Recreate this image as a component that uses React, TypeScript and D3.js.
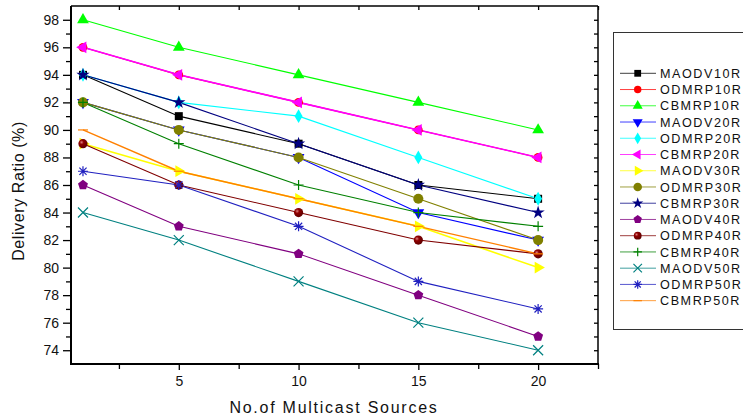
import React, { useRef, useEffect } from "react";
import * as d3 from "d3";

const xValues = [1, 5, 10, 15, 20];
const seriesNames = [
  "MAODV10R", "ODMRP10R", "CBMRP10R", "MAODV20R", "ODMRP20R",
  "CBMRP20R", "MAODV30R", "ODMRP30R", "CBMRP30R", "MAODV40R",
  "ODMRP40R", "CBMRP40R", "MAODV50R", "ODMRP50R", "CBMRP50R",
];
const maodv10 = [94, 91, 89, 86, 85];
const odmrp10 = [96, 94, 92, 90, 88];
const cbmrp10 = [98, 96, 94, 92, 90];
const maodv20 = [92, 90, 88, 84, 82];
const odmrp20 = [94, 92, 91, 88, 85];
const cbmrp20 = [96, 94, 92, 90, 88];
const maodv30 = [89, 87, 85, 83, 80];
const odmrp30 = [92, 90, 88, 85, 82];
const cbmrp30 = [94, 92, 89, 86, 84];
const maodv40 = [86, 83, 81, 78, 75];
const odmrp40 = [89, 86, 84, 82, 81];
const cbmrp40 = [92, 89, 86, 84, 83];
const maodv50 = [84, 82, 79, 76, 74];
const odmrp50 = [87, 86, 83, 79, 77];
const cbmrp50 = [90, 87, 85, 83, 81];
const seriesValues = [
  maodv10, odmrp10, cbmrp10, maodv20, odmrp20, cbmrp20, maodv30, odmrp30,
  cbmrp30, maodv40, odmrp40, cbmrp40, maodv50, odmrp50, cbmrp50,
];
const xTickLabels = [5, 10, 15, 20];
const yTickLabels = [74, 76, 78, 80, 82, 84, 86, 88, 90, 92, 94, 96, 98];

// marker style per series (same order as the legend)
const styles = [
  { color: "#000000", shape: "square" },
  { color: "#ff0000", shape: "circle" },
  { color: "#00ff00", shape: "triUp" },
  { color: "#0000ff", shape: "triDown" },
  { color: "#00ffff", shape: "diamond" },
  { color: "#ff00ff", shape: "triLeft", width: 1.6 },
  { color: "#ffff00", shape: "triRight", width: 1.6 },
  { color: "#808000", shape: "bigCircle" },
  { color: "#000080", shape: "star" },
  { color: "#800080", shape: "pentagon" },
  { color: "#800000", shape: "sphere" },
  { color: "#008000", shape: "plus" },
  { color: "#008080", shape: "x" },
  { color: "#2020c0", shape: "asterisk" },
  { color: "#ff8000", shape: "dash", width: 1.4 },
];

const drawMarker = (g, shape, color, x, y, k = 1) => {
  const t = `translate(${x},${y}) scale(${k})`;
  const sym = (type, size, rot = 0) =>
    g.append("path")
      .attr("d", d3.symbol().type(type).size(size)())
      .attr("transform", `${t} rotate(${rot})`)
      .attr("fill", color);
  const strokePath = (d) =>
    g.append("path").attr("d", d).attr("transform", t)
      .attr("fill", "none").attr("stroke", color).attr("stroke-width", 1.2 / k);
  switch (shape) {
    case "square": sym(d3.symbolSquare, 64); break;
    case "circle": sym(d3.symbolCircle, 60); break;
    case "bigCircle": sym(d3.symbolCircle, 80); break;
    case "triUp": sym(d3.symbolTriangle, 60); break;
    case "triDown": sym(d3.symbolTriangle, 60, 180); break;
    case "triLeft": sym(d3.symbolTriangle, 60, -90); break;
    case "triRight": sym(d3.symbolTriangle, 60, 90); break;
    case "diamond": sym(d3.symbolDiamond, 55); break;
    case "star": sym(d3.symbolStar, 55); break;
    case "pentagon": {
      const r = 5.2;
      const pts = d3.range(5).map(j => {
        const a = (-90 + 72 * j) * Math.PI / 180;
        return [r * Math.cos(a), r * Math.sin(a)];
      });
      g.append("path").attr("d", "M" + pts.join("L") + "Z")
        .attr("transform", t).attr("fill", color);
      break;
    }
    case "sphere":
      g.append("circle").attr("cx", x).attr("cy", y).attr("r", 4.6 * k)
        .attr("fill", "url(#sphereGrad)");
      break;
    case "plus": strokePath("M-5,0H5M0,-5V5"); break;
    case "x": strokePath("M-5,-5L5,5M-5,5L5,-5"); break;
    case "asterisk": strokePath("M-5,0H5M0,-5V5M-3.6,-3.6L3.6,3.6M-3.6,3.6L3.6,-3.6"); break;
    case "dash": strokePath("M-5,0H5"); break;
  }
};

const App = () => {
  const svgRef = useRef(null);
  const width = 743;
  const height = 419;
  const left = 71, right = 598, top = 6, bottom = 364;

  useEffect(() => {
    const svg = d3.select(svgRef.current);
    svg.selectAll("*").remove();

    const defs = svg.append("defs");
    const grad = defs.append("radialGradient").attr("id", "sphereGrad")
      .attr("cx", "35%").attr("cy", "35%").attr("r", "65%");
    grad.append("stop").attr("offset", "0%").attr("stop-color", "#e08080");
    grad.append("stop").attr("offset", "35%").attr("stop-color", "#900000");
    grad.append("stop").attr("offset", "100%").attr("stop-color", "#600000");

    const xScale = d3.scaleLinear().domain([0.5, 22.5]).range([left, right]);
    const yScale = d3.scaleLinear().domain([73, 99]).range([bottom, top]);

    const font = "'Liberation Sans', Arial, sans-serif";

    // series lines and markers
    const plot = svg.append("g");
    const line = d3.line().x((d, i) => xScale(xValues[i])).y(d => yScale(d));
    seriesValues.forEach((vals, si) => {
      const st = styles[si];
      plot.append("path").datum(vals)
        .attr("d", line)
        .attr("fill", "none")
        .attr("stroke", st.color)
        .attr("stroke-width", st.width || 1.1);
    });
    seriesValues.forEach((vals, si) => {
      const st = styles[si];
      const mg = plot.append("g");
      vals.forEach((v, i) => drawMarker(mg, st.shape, st.color, xScale(xValues[i]), yScale(v)));
    });

    // axes
    const yMajor = d3.axisLeft(yScale).tickValues(yTickLabels).tickSize(8).tickPadding(4);
    const yMinor = d3.axisLeft(yScale).tickValues(d3.range(75, 99, 2)).tickSize(5).tickFormat(() => "");
    const xMajor = d3.axisBottom(xScale).tickValues(xTickLabels).tickSize(6).tickPadding(6);
    const xMinor = d3.axisBottom(xScale).tickValues([2.5, 7.5, 12.5, 17.5, 22.5]).tickSize(5).tickFormat(() => "");
    const yRight = d3.axisLeft(yScale).tickValues(d3.range(74, 99, 1)).tickSize(4).tickFormat(() => "");
    const xTop = d3.axisBottom(xScale).tickValues([2.5, 5, 7.5, 10, 12.5, 15, 17.5, 20, 22.5]).tickSize(4).tickFormat(() => "");

    const styleAxis = (g) => {
      g.select(".domain").remove();
      g.selectAll("line").attr("stroke", "#000").attr("stroke-width", 1.3);
      g.selectAll("text").attr("font-family", font).attr("font-size", 14).attr("fill", "#111");
    };

    svg.append("g").attr("transform", `translate(${left},0)`).call(yMajor).call(styleAxis);
    svg.append("g").attr("transform", `translate(${left},0)`).call(yMinor).call(styleAxis);
    svg.append("g").attr("transform", `translate(0,${bottom})`).call(xMajor).call(styleAxis);
    svg.append("g").attr("transform", `translate(0,${bottom})`).call(xMinor).call(styleAxis);
    svg.append("g").attr("transform", `translate(${right},0)`).call(yRight).call(styleAxis);
    svg.append("g").attr("transform", `translate(0,${top})`).call(xTop).call(styleAxis);

    // frame
    svg.append("line").attr("x1", left).attr("x2", left).attr("y1", top).attr("y2", bottom + 1)
      .attr("stroke", "#000").attr("stroke-width", 2);
    svg.append("line").attr("x1", left - 1).attr("x2", right + 1).attr("y1", bottom).attr("y2", bottom)
      .attr("stroke", "#000").attr("stroke-width", 2);
    svg.append("line").attr("x1", left).attr("x2", right).attr("y1", top).attr("y2", top)
      .attr("stroke", "#000").attr("stroke-width", 1.5);
    svg.append("line").attr("x1", right).attr("x2", right).attr("y1", top).attr("y2", bottom)
      .attr("stroke", "#000").attr("stroke-width", 1.5);

    // axis titles
    svg.append("text")
      .attr("x", 334).attr("y", 413)
      .attr("text-anchor", "middle")
      .attr("font-family", font).attr("font-size", 16)
      .attr("letter-spacing", 1.75)
      .attr("fill", "#111")
      .text("No.of Multicast Sources");
    svg.append("text")
      .attr("transform", `translate(24,${(top + bottom) / 2 + 6}) rotate(-90)`)
      .attr("text-anchor", "middle")
      .attr("font-family", font).attr("font-size", 16)
      .attr("letter-spacing", 0.6)
      .attr("fill", "#111")
      .text("Delivery Ratio (%)");

    // legend
    const lg = svg.append("g");
    lg.append("rect").attr("x", 613.5).attr("y", 32.5).attr("width", 200).attr("height", 297)
      .attr("fill", "#fff").attr("stroke", "#333").attr("stroke-width", 1);
    seriesNames.forEach((name, i) => {
      const st = styles[i];
      const y = 73.3 + i * 16.24;
      lg.append("line").attr("x1", 620).attr("x2", 656).attr("y1", y).attr("y2", y)
        .attr("stroke", st.color).attr("stroke-width", 1).attr("opacity", 0.75);
      drawMarker(lg, st.shape, st.color, 637.7, y, 0.85);
      lg.append("text").attr("x", 660).attr("y", y + 4.6)
        .attr("font-family", font).attr("font-size", 12.6)
        .attr("letter-spacing", 1.55)
        .attr("fill", "#111")
        .text(name);
    });
  }, []);

  return (
    <div>
      <svg ref={svgRef} width={width} height={height}
        style={{ position: "absolute", left: 0, top: 0, background: "#fff" }}></svg>
    </div>
  );
};

export default App;
